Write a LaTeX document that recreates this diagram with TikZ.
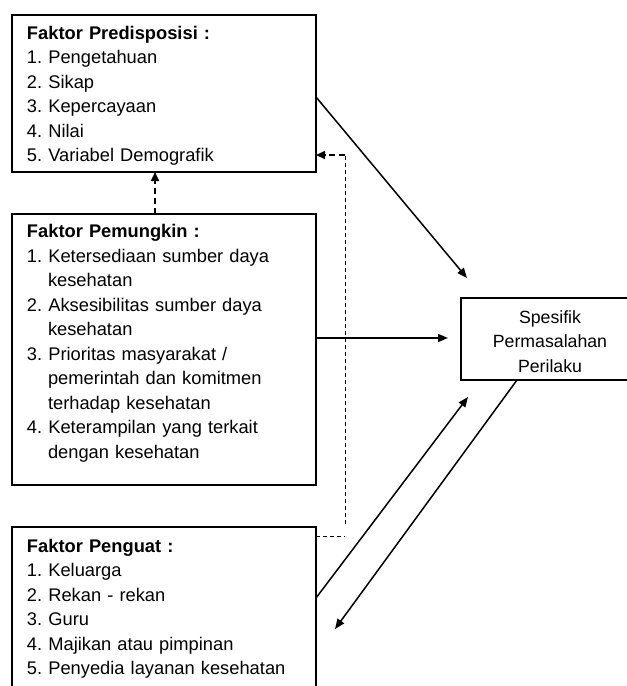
\documentclass[tikz,border=0pt]{standalone}
\usepackage{fontspec}
\setmainfont{Liberation Sans}
\usetikzlibrary{arrows.meta}
\frenchspacing
\begin{document}
\begin{tikzpicture}[x=1pt, y=-1pt,
    faktor/.style={draw, line width=1.1pt, anchor=north west, outer sep=0pt,
        inner xsep=15pt, inner ysep=0pt, text width=274pt, align=left,
        font=\fontsize{18.3}{24.5}\selectfont},
    masalah/.style={draw, line width=1.1pt, anchor=north west, outer sep=0pt,
        inner xsep=10pt, inner ysep=0pt, text width=158pt, align=center,
        font=\fontsize{17.7}{24.5}\selectfont},
    panah/.style={line width=1.5pt, -{Triangle[length=10pt,width=8pt]}},
    putus/.style={line width=1pt, dash pattern=on 4pt off 3pt},
    putustebal/.style={line width=1.8pt, dash pattern=on 6pt off 4pt,
        -{Triangle[length=9pt,width=8pt]}}]
            \useasboundingbox (0,0) rectangle (627,686);
            \clip (0,0) rectangle (627,686);
            \node[faktor] (p1) at (12,15) {\rule{0pt}{24.3pt}\textbf{Faktor Predisposisi :}\\1. Pengetahuan\\2. Sikap\\3. Kepercayaan\\4. Nilai\\5. Variabel Demografik\rule[-10.2pt]{0pt}{10.2pt}};
            \node[faktor] (p2) at (12,214) {\rule{0pt}{23.7pt}\textbf{Faktor Pemungkin :}\\1. Ketersediaan sumber daya\\\hspace*{21pt}kesehatan\\2. Aksesibilitas sumber daya\\\hspace*{21pt}kesehatan\\3. Prioritas masyarakat /\\\hspace*{21pt}pemerintah dan komitmen\\\hspace*{21pt}terhadap kesehatan\\4. Keterampilan yang terkait\\\hspace*{21pt}dengan kesehatan\rule[-26.8pt]{0pt}{26.8pt}};
            \node[faktor] (p3) at (12,527) {\rule{0pt}{25pt}\textbf{Faktor Penguat :}\\1. Keluarga\\2. Rekan - rekan\\3. Guru\\4. Majikan atau pimpinan\\5. Penyedia layanan kesehatan\rule[-16pt]{0pt}{16pt}};
            \node[masalah] (s) at (461,298) {\rule{0pt}{25pt}Spesifik\\Permasalahan\\Perilaku\rule[-8pt]{0pt}{8pt}};
            \coordinate (c1) at (345,536);
            \coordinate (c2) at (345,524);
            \coordinate (c3) at (345,155);
            \draw[panah] ([yshift=-82pt]p1.north east) -- ([xshift=6pt,yshift=20pt]s.north west);
            \draw[panah] ([yshift=-124pt]p2.north east) -- ([xshift=-13pt,yshift=-40pt]s.north west);
            \draw[panah] ([yshift=-71pt]p3.north east) -- ([xshift=7pt,yshift=-17pt]s.south west);
            \draw[panah] ([xshift=56pt]s.south west) -- ([xshift=19pt,yshift=-102pt]p3.north east);
            \draw[putustebal] ([xshift=-9pt]p2.north) -- ([xshift=-9pt]p1.south);
            \draw[putus] ([yshift=-9pt]p3.north east) -- (c1);
            \draw[putus] (c2) -- (c3);
            \draw[putustebal] (c3) -- ([yshift=-140pt]p1.north east);
\end{tikzpicture}
\end{document}
